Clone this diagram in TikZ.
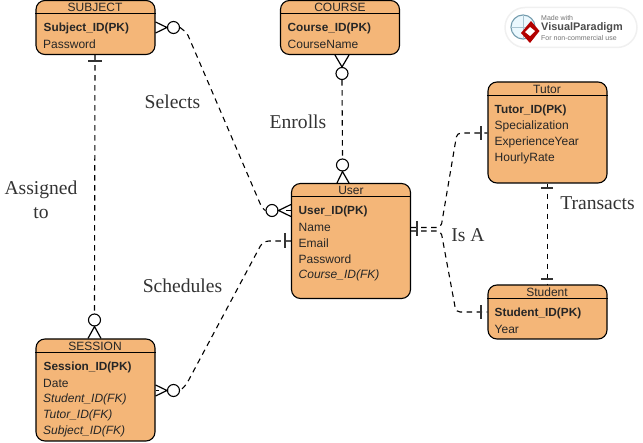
\documentclass[tikz,border=0pt]{standalone}
\usepackage{fontspec}
\setmainfont{Liberation Serif}
\setsansfont{Liberation Sans}
\usetikzlibrary{calc}
\definecolor{entfill}{HTML}{F4B678}
\definecolor{enttext}{HTML}{262626}
\definecolor{lbl}{HTML}{333333}
\tikzset{
  entity/.style={draw=black,fill=entfill,rounded corners=9pt,line width=1.1pt,minimum width=119pt,inner sep=0pt},
  hdr/.style={font=\sffamily\fontsize{12}{14}\selectfont,text=enttext,inner sep=0pt},
  attr/.style={font=\sffamily\fontsize{12}{14}\selectfont,text=enttext,inner sep=0pt,anchor=west},
  pk/.style={attr,font=\sffamily\bfseries\fontsize{11.8}{14}\selectfont},
  fk/.style={attr,font=\sffamily\itshape\fontsize{12}{14}\selectfont},
  sep/.style={line width=1pt},
  conn/.style={line width=1.1pt,dash pattern=on 5.5pt off 4.5pt},
  zc/.style={circle,draw=black,fill=white,line width=1.1pt,minimum size=12pt,inner sep=0pt},
  crow/.style={line width=1.2pt,draw=black},
  tbar/.style={line width=1.6pt,draw=black!80},
  rel/.style={font=\fontsize{19.6}{20}\selectfont,text=lbl,inner sep=0pt,align=center},
}
\begin{document}
\begin{tikzpicture}[x=1pt,y=-1pt]
\useasboundingbox (0,0) rectangle (643,443);
% entities
\node[entity,minimum height=54pt] (subject) at (95.5,27.5) {};
\node[entity,minimum height=54pt] (course) at (340,27.5) {};
\node[entity,minimum height=101pt] (tutor) at (547.5,132.5) {};
\node[entity,minimum height=115pt] (user) at (351,241) {};
\node[entity,minimum height=54pt] (student) at (547.5,312) {};
\node[entity,minimum height=102pt] (session) at (95.5,390) {};
% header separators
\draw[sep] ($(subject.north west)+(0,14)$) -- ($(subject.north east)+(0,14)$);
\draw[sep] ($(course.north west)+(0,14)$) -- ($(course.north east)+(0,14)$);
\draw[sep] ($(tutor.north west)+(0,14)$) -- ($(tutor.north east)+(0,14)$);
\draw[sep] ($(user.north west)+(0,14)$) -- ($(user.north east)+(0,14)$);
\draw[sep] ($(student.north west)+(0,14)$) -- ($(student.north east)+(0,14)$);
\draw[sep] ($(session.north west)+(0,14)$) -- ($(session.north east)+(0,14)$);
% text: subject
\node[hdr] (t1) at (95,7) {SUBJECT};
\node[pk] (t2) at (43.5,28) {Subject\_ID(PK)};
\node[attr] (t3) at (43,44) {Password};
% course
\node[hdr] (t4) at (340,7) {COURSE};
\node[pk] (t5) at (287.5,28) {Course\_ID(PK)};
\node[attr] (t6) at (287.5,44) {CourseName};
% tutor
\node[hdr] (t7) at (547,89) {Tutor};
\node[pk] (t8) at (494.5,110) {Tutor\_ID(PK)};
\node[attr] (t9) at (494.5,126) {Specialization};
\node[attr] (t10) at (494.5,142) {ExperienceYear};
\node[attr] (t11) at (494.5,158) {HourlyRate};
% user
\node[hdr] (t12) at (351,190) {User};
\node[pk] (t13) at (298.5,211) {User\_ID(PK)};
\node[attr] (t14) at (298.5,227) {Name};
\node[attr] (t15) at (298.5,243) {Email};
\node[attr] (t16) at (298.5,259) {Password};
\node[fk] (t17) at (298.5,275) {Course\_ID(FK)};
% student
\node[hdr] (t18) at (547,292) {Student};
\node[pk] (t19) at (494.5,313) {Student\_ID(PK)};
\node[attr] (t20) at (494.5,329) {Year};
% session
\node[hdr] (t21) at (95,346) {SESSION};
\node[pk] (t22) at (43.5,367) {Session\_ID(PK)};
\node[attr] (t23) at (43,383) {Date};
\node[fk] (t24) at (43,399) {Student\_ID(FK)};
\node[fk] (t25) at (43,415) {Tutor\_ID(FK)};
\node[fk] (t26) at (43,431) {Subject\_ID(FK)};
% relationship labels
\node[rel] (l1) at (172.5,102) {Selects};
\node[rel] (l2) at (298,122) {Enrolls};
\node[rel] (l3) at (41,200) {Assigned\\[4pt]to};
\node[rel] (l4) at (182.5,286) {Schedules};
\node[rel] (l5) at (468,235) {Is A};
\node[rel] (l6) at (597.5,203) {Transacts};
% junction coordinates
\coordinate (b1a) at (187,33);
\coordinate (b1b) at (262,208);
\coordinate (b2a) at (263,241);
\coordinate (b2b) at (185,387);
\coordinate (isaT) at (441,227.5);
\coordinate (isaS) at (441,231);
\coordinate (b3a) at (457,133);
\coordinate (b4a) at (456,312);
% crow / circle ends
\node[zc] (c1) at (173.5,27.5) {};
\node[zc] (c2) at (272,210.5) {};
\node[zc] (c3) at (342,73.5) {};
\node[zc] (c4) at (342.5,165) {};
\node[zc] (c5) at (94.5,320) {};
\node[zc] (c6) at (173.5,390.5) {};
% connectors
\draw[conn,rounded corners=3pt] (c1.east) -- (b1a) -- (b1b) -- (c2.west);
\draw[conn] (c3.south) -- (c4.north);
\draw[conn,rounded corners=6pt] (user.west |- 0,241) -- (b2a) -- (b2b) -- (c6.east);
\draw[conn] (subject.south) ++(-0.5,0) -- (c5.north);
\draw[conn] (tutor.south) -- (student.north);
\draw[conn,rounded corners=4pt] (user.east |- 0,227.5) -- (isaT) -- (b3a) -- (tutor.west |- 0,133);
\draw[conn,rounded corners=4pt] (user.east |- 0,231) -- (isaS) -- (b4a) -- (student.west |- 0,312);
% crow's feet
\draw[crow] (subject.east |- 0,22) -- (c1.west) -- (subject.east |- 0,33);
\draw[crow] (session.east |- 0,385) -- (c6.west) -- (session.east |- 0,396);
\draw[crow] (session.east |- 0,390.5) -- (159,390.5);
\draw[crow] (user.west |- 0,204.5) -- (c2.east) -- (user.west |- 0,216.5);
\draw[crow] (user.west |- 0,210.5) -- (286,210.5);
\draw[crow] (course.south -| 335,0) -- (c3.north) -- (course.south -| 349,0);
\draw[crow] (user.north -| 337,0) -- (c4.south) -- (user.north -| 349,0);
\draw[crow] (session.north -| 88,0) -- (c5.south) -- (session.north -| 101,0);
% one bars
\draw[tbar] (88,61) -- (102,61);
\draw[tbar] (285,233) -- (285,248);
\draw[tbar] (417,221) -- (417,236);
\draw[tbar] (481,126) -- (481,140);
\draw[tbar] (481,305) -- (481,319);
\draw[tbar] (541,188) -- (553,188);
\draw[tbar] (541,279) -- (553,279);
% watermark
\node[draw=black!6,fill=white,rounded corners=20pt,minimum width=132pt,minimum height=40pt,line width=1.5pt,inner sep=0pt] (wm) at (571,27.5) {};
\node[circle,draw=cyan!50!black!70,fill=cyan!8,line width=1.1pt,minimum size=24pt,inner sep=0pt] (globe) at (523,27) {};
\draw[cyan!50!black!40,line width=.4pt] (globe.west) -- (globe.east) (globe.north) -- (globe.south);
\fill[red!70!black] (531,21) -- (539.5,31) -- (530,43) -- (521,33) -- cycle;
\fill[white] (530,27) -- (535,31) -- (530,36) -- (525,32) -- cycle;
\node[inner sep=0pt,anchor=west,font=\sffamily\fontsize{7}{8}\selectfont,text=black!55] (w1) at (541,18) {Made with};
\node[inner sep=0pt,anchor=west,font=\sffamily\bfseries\fontsize{10.9}{12}\selectfont,text=black!70] (w2) at (541,28) {VisualParadigm};
\node[inner sep=0pt,anchor=west,font=\sffamily\fontsize{7}{8}\selectfont,text=black!55] (w3) at (541,38) {For non-commercial use};
\end{tikzpicture}
\end{document}
